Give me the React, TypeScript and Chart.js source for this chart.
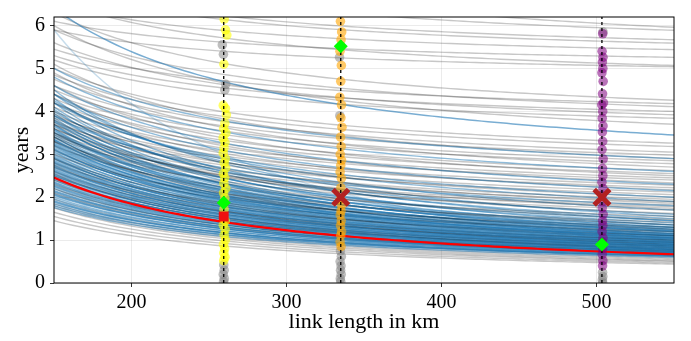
import React, { useEffect, useRef } from "react";
import { Chart, registerables } from "chart.js";

Chart.register(...registerables);

const X_MIN = 150;
const X_MAX = 550;
const Y_MIN = 0;
const Y_MAX = 6.2;
const xTickValues = [200, 300, 400, 500];
const yTickValues = [0, 1, 2, 3, 4, 5, 6];
const xLabel = "link length in km";
const yLabel = "years";

// Each curve: [value at 150 km, value at 550 km]
const grayCurves: number[][] = [
  [8.5, 5.96], [7.6, 5.89], [7.0, 5.67], [6.9, 5.59], [6.5, 5.44], [6.1, 5.26], [6.6, 5.07], [5.9, 5.04],
  [6.3, 4.26], [5.45, 4.18], [5.9, 4.11], [5.3, 4.0], [5.6, 3.92], [5.2, 3.84], [6.0, 3.7], [5.0, 3.26], [4.85, 3.18],
  [4.75, 3.05], [4.6, 2.98], [5.1, 2.9], [4.5, 2.85], [4.4, 2.78], [4.9, 2.7], [4.3, 2.62], [4.2, 2.55], [4.6, 2.5],
  [4.1, 2.45], [4.0, 2.4], [4.4, 2.33], [3.9, 2.28], [3.85, 2.22], [4.2, 2.17], [3.75, 2.12], [3.7, 2.06], [3.95, 2.0],
  [3.6, 1.95], [3.5, 1.9], [3.8, 1.86], [3.45, 1.82], [3.4, 1.78], [3.6, 1.74], [3.3, 1.7],
  [3.7, 1.62], [3.2, 1.55], [3.5, 1.48], [3.0, 1.42], [3.3, 1.36], [2.9, 1.3], [3.1, 1.25], [2.8, 1.2], [3.4, 1.15],
  [2.7, 1.1], [2.9, 1.05], [2.6, 1.0], [2.5, 0.95], [2.75, 0.9], [2.4, 0.86], [2.3, 0.82], [2.55, 0.78], [2.2, 0.74], [2.1, 0.7],
  [1.95, 0.62], [1.85, 0.58], [1.8, 0.55], [1.75, 0.52], [1.65, 0.5], [1.55, 0.47], [1.45, 0.44],
];

const blueCurves: number[][] = [
  [4.5, 1.55], [4.4, 1.7], [4.3, 1.45], [4.25, 1.9], [4.2, 1.35], [4.1, 1.5], [4.05, 1.3], [4.0, 1.6], [3.95, 1.25],
  [3.9, 1.4], [3.85, 1.2], [3.8, 1.45], [3.75, 1.3], [3.7, 1.15], [3.68, 1.25], [3.65, 1.35], [3.6, 1.18], [3.56, 1.1],
  [3.52, 1.28], [3.5, 1.2], [3.46, 1.12], [3.42, 1.05], [3.4, 1.22], [3.36, 1.1], [3.33, 1.15], [3.3, 1.02], [3.27, 1.08],
  [3.24, 1.12], [3.2, 1.0], [3.17, 1.05], [3.14, 0.98], [3.1, 1.1], [3.07, 0.96], [3.04, 1.02], [3.0, 0.94], [2.97, 1.0],
  [2.94, 0.92], [2.9, 0.98], [2.87, 0.9], [2.84, 0.95], [2.8, 0.88], [2.77, 0.93], [2.74, 0.86], [2.7, 0.9], [2.67, 0.84],
  [2.64, 0.88], [2.6, 0.82], [2.57, 0.86], [2.54, 0.8], [2.5, 0.84], [2.47, 0.78], [2.43, 0.8], [2.4, 0.76], [2.36, 0.78],
  [2.32, 0.74], [2.28, 0.76], [2.24, 0.72], [2.2, 0.74], [2.16, 0.7], [2.12, 0.72], [2.08, 0.68], [2.04, 0.7], [2.0, 0.66],
  [1.96, 0.68], [1.92, 0.64], [1.88, 0.66], [1.84, 0.62], [1.8, 0.64], [1.76, 0.6],
  [3.58, 1.14], [3.34, 1.06], [3.12, 1.03], [2.92, 0.96], [2.72, 0.88], [2.52, 0.82], [2.34, 0.77], [2.14, 0.71],
  [3.78, 1.22], [3.22, 1.06], [2.82, 0.92], [2.62, 0.85], [2.44, 0.79], [2.26, 0.74], [2.06, 0.69], [1.9, 0.63],
  [4.6, 2.3], [4.8, 2.6], [4.2, 2.0], [5.0, 2.9], [3.9, 1.8], [4.4, 2.15],
];
const blueStrongCurve = [6.41, 3.45];
const blueFaintCurve = [5.9, 0.9];
const redCurve = [2.46, 0.67];

const probeLengths = [259.5, 335, 503.5];

const yellowPts: number[][] = [
  [259.8, 6.15], [260.6, 5.9], [261.5, 5.78], [259.6, 5.1], [259.2, 4.14], [260.6, 4.07], [261.2, 3.92], [260.2, 3.72],
  [259.5, 3.6], [260.9, 3.5], [259.1, 3.38], [260.3, 3.28], [259.7, 3.15], [259.2, 3.03], [260.5, 2.9], [259.8, 2.8],
  [260.7, 2.68], [259.3, 2.55], [260.1, 2.45], [259.6, 2.32], [260.8, 2.2], [259.4, 2.1], [260.2, 1.98], [259.7, 1.72],
  [260.5, 1.45], [259.2, 1.35], [260.4, 1.25], [259.8, 1.12], [260.6, 1.0], [259.3, 0.9], [260.1, 0.8], [259.6, 0.7],
  [260.3, 0.6], [259.5, 0.52],
];
const yellowGrayPts: number[][] = [
  [258.6, 5.55], [259.3, 5.33], [260.8, 4.63], [260.2, 4.5], [259.5, 0.42], [259.8, 0.3], [259.2, 0.2], [259.9, 0.1],
  [259.4, 0.03],
];
const orangePts: number[][] = [
  [334.8, 6.1], [335.6, 5.85], [335.2, 5.67], [334.5, 5.4], [335.4, 5.07], [335.0, 4.7], [334.4, 4.33], [335.5, 4.15],
  [335.1, 3.85], [335.8, 3.63], [334.9, 3.4], [335.3, 3.18], [334.7, 3.0], [335.5, 2.86], [335.0, 2.74], [334.6, 2.59],
  [335.4, 2.44], [335.1, 2.22], [334.8, 1.95], [335.6, 1.81], [335.2, 1.68], [334.7, 1.59], [335.3, 1.45], [334.9, 1.34],
  [335.5, 1.2], [335.0, 1.11], [334.6, 0.96], [335.2, 0.85],
];
const orangeGrayPts: number[][] = [
  [334.2, 5.26], [334.4, 3.9], [334.8, 0.75], [335.4, 0.62], [334.6, 0.5], [335.2, 0.4], [334.9, 0.3], [335.3, 0.2],
  [334.7, 0.1], [335.0, 0.03],
];
const purplePts: number[][] = [
  [504.0, 5.81], [503.6, 5.4], [504.2, 5.26], [503.8, 5.15], [504.1, 5.0], [503.5, 4.9], [504.3, 4.7], [503.9, 4.41],
  [504.5, 4.2], [503.4, 4.15], [504.0, 4.0], [503.7, 3.84], [504.2, 3.66], [503.8, 3.52], [504.0, 3.3], [503.6, 3.11],
  [504.3, 2.89], [503.9, 2.67], [504.1, 2.5], [503.5, 2.35], [504.2, 2.2], [503.8, 2.05], [504.0, 1.9], [503.7, 1.75],
  [504.3, 1.6], [503.9, 1.45], [504.1, 1.34], [503.6, 1.2], [504.2, 1.05], [503.8, 0.95], [504.0, 0.8], [503.7, 0.67],
  [504.1, 0.52], [503.9, 0.4],
];
const purpleGrayPts: number[][] = [
  [504.2, 5.85], [503.9, 0.25], [504.1, 0.15], [503.8, 0.07], [504.0, 0.0],
];
const greenDiamonds: number[][] = [[259.5, 1.87], [335, 5.52], [503.5, 0.9]];
const redCrosses: number[][] = [[335, 2.0], [503.5, 2.0]];
const redSquares: number[][] = [[259.5, 1.55]];

const sampleLengths: number[] = [];
for (let x = X_MIN; x <= X_MAX; x += 4) sampleLengths.push(x);

function curvePoints(pair: number[]) {
  const [start, end] = pair;
  const c = (start - end) / (1 / X_MIN - 1 / X_MAX);
  const a = end - c / X_MAX;
  return sampleLengths.map((x) => ({ x, y: a + c / x }));
}

const toXY = (pts: number[][]) => pts.map(([x, y]) => ({ x, y }));

const FONT = "'Liberation Serif', 'Times New Roman', serif";

export default function App() {
  const ref = useRef<HTMLCanvasElement | null>(null);

  useEffect(() => {
    if (!ref.current) return;
    const layers: any[] = [];
    const line = (pair: number[], color: string, width: number) => ({
      data: curvePoints(pair),
      borderColor: color,
      borderWidth: width,
      pointRadius: 0,
      fill: false,
      tension: 0,
    });
    const n = Math.max(grayCurves.length, blueCurves.length);
    for (let i = 0; i < n; i++) {
      if (i < blueCurves.length) layers.push(line(blueCurves[i], "rgba(31,119,180,0.5)", 1.4));
      if (i < grayCurves.length) layers.push(line(grayCurves[i], "rgba(0,0,0,0.22)", 1.4));
    }
    layers.push(line(blueStrongCurve, "rgba(31,119,180,0.6)", 1.5));
    layers.push(line(blueFaintCurve, "rgba(31,119,180,0.25)", 1.5));
    layers.push(line(redCurve, "#ff0000", 2.2));

    const dots = (pts: number[][], color: string, r = 4.8) => ({
      data: toXY(pts),
      showLine: false,
      pointRadius: r,
      pointBackgroundColor: color,
      pointBorderWidth: 0,
      borderColor: "transparent",
    });
    layers.push(dots(yellowGrayPts, "rgba(128,128,128,0.5)"));
    layers.push(dots(orangeGrayPts, "rgba(128,128,128,0.5)"));
    layers.push(dots(purpleGrayPts, "rgba(128,128,128,0.5)"));
    layers.push(dots(yellowPts, "rgba(255,255,0,0.6)"));
    layers.push(dots(orangePts, "rgba(255,165,0,0.6)"));
    layers.push(dots(purplePts, "rgba(128,0,128,0.55)"));

    probeLengths.forEach((px) => {
      layers.push({
        data: [{ x: px, y: Y_MIN }, { x: px, y: Y_MAX }],
        borderColor: "#000",
        borderWidth: 1.3,
        borderDash: [3, 3],
        pointRadius: 0,
        fill: false,
      });
    });

    layers.push({
      data: toXY(redCrosses),
      showLine: false,
      pointStyle: "crossRot",
      pointRadius: 11,
      pointBorderWidth: 5,
      pointBorderColor: "#b22222",
      borderColor: "transparent",
    });
    layers.push({
      data: toXY(redSquares),
      showLine: false,
      pointStyle: "rect",
      pointRadius: 7,
      pointBackgroundColor: "#f01010",
      pointBorderWidth: 0,
      borderColor: "transparent",
    });
    layers.push({
      data: toXY(greenDiamonds),
      showLine: false,
      pointStyle: "rectRot",
      pointRadius: 7,
      pointBackgroundColor: "#00ff00",
      pointBorderWidth: 0,
      borderColor: "transparent",
    });

    const datasets = layers.slice().reverse();

    const frame = {
      id: "frame",
      afterDatasetsDraw(chart: any) {
        const { ctx, chartArea: a } = chart;
        ctx.save();
        ctx.strokeStyle = "#000";
        ctx.lineWidth = 1;
        ctx.strokeRect(a.left, a.top, a.right - a.left, a.bottom - a.top);
        ctx.restore();
      },
    };

    const chart = new Chart(ref.current, {
      type: "line",
      data: { datasets },
      options: {
        animation: false,
        responsive: false,
        devicePixelRatio: 1,
        events: [],
        layout: { padding: { left: 0, top: 4, right: 17, bottom: 0 } },
        plugins: { legend: { display: false }, tooltip: { enabled: false } },
        scales: {
          x: {
            type: "linear",
            min: X_MIN,
            max: X_MAX,
            afterBuildTicks: (s: any) => {
              s.ticks = xTickValues.map((v) => ({ value: v }));
            },
            afterFit: (s: any) => {
              s.height = 58;
            },
            ticks: { font: { family: FONT, size: 20 }, color: "#000", padding: 4, maxRotation: 0 },
            grid: { color: "rgba(0,0,0,0.1)", lineWidth: 0.8, tickColor: "#000", tickLength: 4 },
            border: { display: false },
            title: {
              display: true,
              text: xLabel,
              font: { family: FONT, size: 22 },
              color: "#000",
              padding: { top: 0, bottom: 6 },
            },
          },
          y: {
            type: "linear",
            min: Y_MIN,
            max: Y_MAX,
            afterBuildTicks: (s: any) => {
              s.ticks = yTickValues.map((v) => ({ value: v }));
            },
            afterFit: (s: any) => {
              s.width = 54;
            },
            ticks: { font: { family: FONT, size: 20 }, color: "#000", padding: 5 },
            grid: { color: "rgba(0,0,0,0.1)", lineWidth: 0.8, tickColor: "#000", tickLength: 4 },
            border: { display: false },
            title: {
              display: true,
              text: yLabel,
              font: { family: FONT, size: 22 },
              color: "#000",
              padding: { top: 9, bottom: 0 },
            },
          },
        },
      } as any,
      plugins: [frame],
    });
    return () => chart.destroy();
  }, []);

  return (
    <div style={{ position: "fixed", left: 0, top: 0, width: 691, height: 341, background: "#fff" }}>
      <canvas ref={ref} width={691} height={341} style={{ width: 691, height: 341 }} />
    </div>
  );
}
